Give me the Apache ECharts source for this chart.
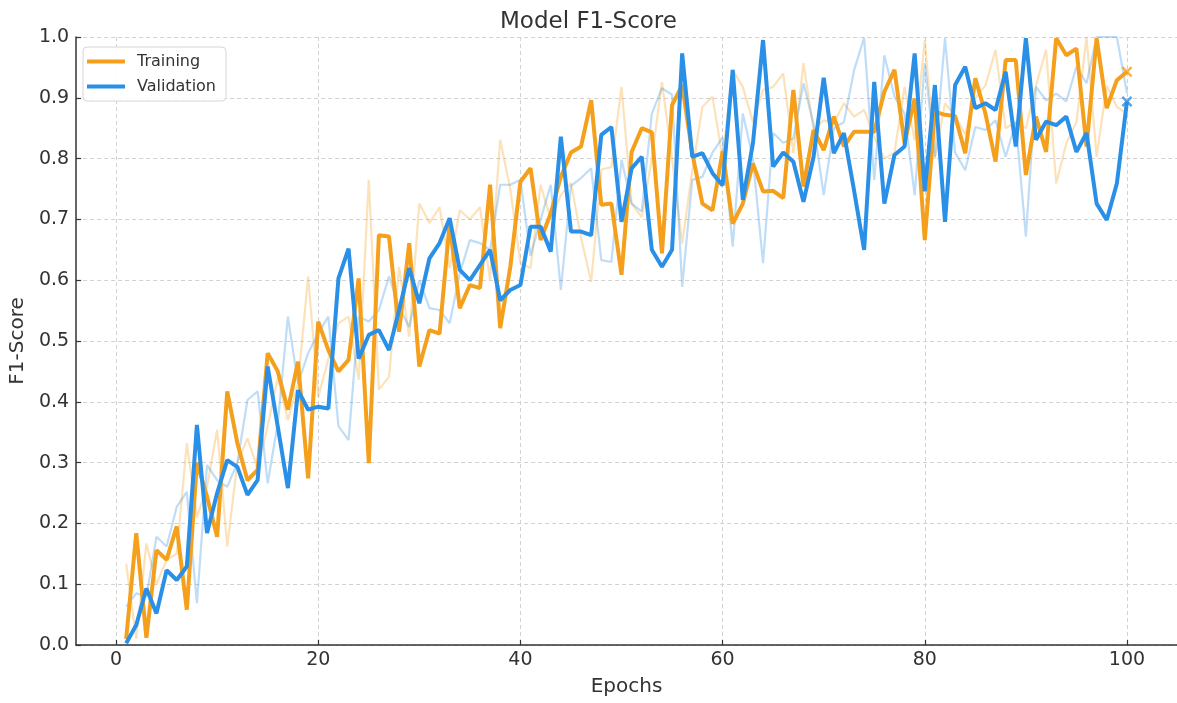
<!DOCTYPE html>
<html>
<head>
<meta charset="utf-8">
<script src="https://cdn.jsdelivr.net/npm/echarts@6/dist/echarts.min.js"></script>
<style>
html,body{margin:0;padding:0;background:#fff;}
#chart{width:1177px;height:703px;}
</style>
</head>
<body>
<div id="chart"></div>
<script>
const epochs = Array.from({length: 100}, (_, i) => i + 1);
const xTicks = [0, 20, 40, 60, 80, 100];

const trainF1 = [0.01,0.184,0.012,0.156,0.14,0.195,0.058,0.30,0.244,0.178,
0.417,0.332,0.271,0.288,0.480,0.45,0.387,0.466,0.274,0.532,
0.485,0.45,0.469,0.603,0.299,0.674,0.672,0.515,0.661,0.458,
0.518,0.512,0.694,0.554,0.592,0.587,0.757,0.521,0.622,0.762,
0.784,0.666,0.71,0.77,0.81,0.82,0.896,0.724,0.726,0.609,
0.811,0.85,0.843,0.644,0.888,0.921,0.809,0.726,0.715,0.812,
0.693,0.726,0.792,0.746,0.747,0.735,0.913,0.754,0.847,0.814,
0.869,0.82,0.844,0.844,0.844,0.91,0.946,0.825,0.899,0.666,
0.877,0.872,0.87,0.809,0.932,0.874,0.795,0.962,0.962,0.773,
0.869,0.811,0.998,0.970,0.981,0.82,0.998,0.883,0.929,0.943];

const valF1 = [0.003,0.033,0.093,0.052,0.123,0.107,0.129,0.362,0.184,0.25,
0.304,0.293,0.247,0.271,0.458,0.359,0.258,0.419,0.387,0.392,
0.389,0.603,0.652,0.471,0.51,0.518,0.485,0.551,0.62,0.562,
0.636,0.661,0.702,0.617,0.60,0.625,0.65,0.567,0.584,0.592,
0.688,0.688,0.647,0.836,0.68,0.68,0.674,0.839,0.852,0.696,
0.784,0.803,0.65,0.622,0.65,0.973,0.803,0.809,0.776,0.756,
0.946,0.732,0.825,0.995,0.787,0.81,0.795,0.729,0.803,0.933,
0.809,0.842,0.748,0.65,0.926,0.726,0.806,0.82,0.973,0.746,
0.921,0.696,0.921,0.951,0.883,0.891,0.88,0.943,0.82,0.998,
0.831,0.861,0.855,0.869,0.811,0.842,0.726,0.699,0.759,0.894];

const trainRaw = [0.134,0.01,0.167,0.10,0.14,0.15,0.332,0.21,0.26,0.354,
0.162,0.30,0.34,0.29,0.36,0.44,0.37,0.43,0.606,0.408,
0.47,0.529,0.54,0.436,0.765,0.42,0.441,0.622,0.507,0.726,
0.694,0.72,0.62,0.715,0.70,0.72,0.60,0.831,0.75,0.628,
0.62,0.757,0.70,0.74,0.76,0.67,0.597,0.782,0.786,0.918,
0.726,0.704,0.80,0.926,0.80,0.66,0.78,0.885,0.902,0.80,
0.946,0.918,0.86,0.913,0.918,0.94,0.809,0.957,0.847,0.863,
0.858,0.891,0.869,0.88,0.836,0.80,0.81,0.918,0.83,0.995,
0.80,0.891,0.87,0.84,0.90,0.92,0.979,0.85,0.86,0.85,
0.92,0.979,0.759,0.825,0.86,1.0,0.803,0.92,0.885,0.874];

const valRaw = [0.063,0.085,0.08,0.178,0.162,0.227,0.252,0.069,0.296,0.271,
0.26,0.30,0.403,0.417,0.266,0.365,0.54,0.43,0.48,0.513,
0.54,0.36,0.337,0.54,0.532,0.551,0.606,0.556,0.523,0.60,
0.554,0.551,0.529,0.611,0.666,0.661,0.65,0.757,0.757,0.765,
0.64,0.70,0.757,0.584,0.755,0.768,0.784,0.633,0.63,0.798,
0.726,0.713,0.874,0.916,0.905,0.589,0.765,0.77,0.81,0.835,
0.655,0.874,0.80,0.628,0.842,0.826,0.833,0.924,0.857,0.74,
0.85,0.86,0.945,0.999,0.765,0.97,0.902,0.874,0.74,0.957,
0.803,0.998,0.81,0.781,0.852,0.847,0.863,0.803,0.86,0.672,
0.918,0.896,0.907,0.894,0.951,0.924,1.0,1.0,1.0,0.908];

const ORANGE = '#F5A01C';
const BLUE = '#2A8FE6';
const xMark = 'path://M0,1.6L1.6,0L5,3.4L8.4,0L10,1.6L6.6,5L10,8.4L8.4,10L5,6.6L1.6,10L0,8.4L3.4,5Z';

const pairs = arr => epochs.map((e, i) => [e, arr[i]]);

const chart = echarts.init(document.getElementById('chart'), null, {renderer: 'canvas'});
const fontFamily = 'DejaVu Sans';
chart.setOption({
  animation: false,
  backgroundColor: '#ffffff',
  title: {
    text: 'Model F1-Score',
    left: 'center',
    top: 6,
    textStyle: {fontFamily, fontSize: 23, fontWeight: 'normal', color: '#333'}
  },
  legend: {
    data: ['Training', 'Validation'],
    orient: 'vertical',
    left: 83,
    top: 47,
    icon: 'rect',
    itemWidth: 38,
    itemHeight: 4,
    itemGap: 8,
    padding: [6, 10, 6, 4],
    backgroundColor: 'rgba(255,255,255,0.85)',
    borderColor: '#d6d6d6',
    borderWidth: 1,
    borderRadius: 4,
    textStyle: {fontFamily, fontSize: 16, color: '#333', lineHeight: 17, padding: [0, 0, 0, 7]}
  },
  grid: {left: 74, top: 37, width: 1106, height: 608, containLabel: false},
  xAxis: {
    type: 'value',
    min: -3.95,
    max: 104.95,
    name: 'Epochs',
    nameLocation: 'middle',
    nameGap: 32,
    nameTextStyle: {fontFamily, fontSize: 20, color: '#333'},
    axisLine: {show: true, onZero: false, lineStyle: {color: '#333', width: 1.5}},
    axisTick: {show: true, inside: true, length: 5, customValues: xTicks, lineStyle: {color: '#333', width: 1.2}},
    axisLabel: {customValues: xTicks, fontFamily, fontSize: 19, color: '#333', margin: 6},
    splitLine: {show: true, lineStyle: {color: '#d2d2d2', type: [4, 3], width: 1}}
  },
  yAxis: {
    type: 'value',
    min: 0,
    max: 1,
    interval: 0.1,
    name: 'F1-Score',
    nameLocation: 'middle',
    nameGap: 46,
    nameTextStyle: {fontFamily, fontSize: 20, color: '#333'},
    axisLine: {show: true, onZero: false, lineStyle: {color: '#333', width: 1.5}},
    axisTick: {show: true, inside: true, length: 5, lineStyle: {color: '#333', width: 1.2}},
    axisLabel: {fontFamily, fontSize: 19, color: '#333', margin: 7, formatter: v => v.toFixed(1)},
    splitLine: {show: true, lineStyle: {color: '#d2d2d2', type: [4, 3], width: 1}}
  },
  series: [
    {name: 'Training (raw)', type: 'line', data: pairs(trainRaw), showSymbol: false, symbol: 'none',
     lineStyle: {color: ORANGE, width: 2.2, opacity: 0.3}, itemStyle: {color: ORANGE}, z: 1, silent: true},
    {name: 'Validation (raw)', type: 'line', data: pairs(valRaw), showSymbol: false, symbol: 'none',
     lineStyle: {color: BLUE, width: 2.2, opacity: 0.3}, itemStyle: {color: BLUE}, z: 1, silent: true},
    {name: 'Training', type: 'line', data: pairs(trainF1), showSymbol: false, symbol: 'none',
     lineStyle: {color: ORANGE, width: 4}, itemStyle: {color: ORANGE}, z: 3},
    {name: 'Validation', type: 'line', data: pairs(valF1), showSymbol: false, symbol: 'none',
     lineStyle: {color: BLUE, width: 4}, itemStyle: {color: BLUE}, z: 4},
    {name: 'Training', type: 'scatter', data: [[epochs[99], trainF1[99]]], symbol: xMark, symbolSize: 11,
     itemStyle: {color: ORANGE}, z: 5},
    {name: 'Validation', type: 'scatter', data: [[epochs[99], valF1[99]]], symbol: xMark, symbolSize: 11,
     itemStyle: {color: BLUE}, z: 6}
  ]
});
</script>
</body>
</html>
